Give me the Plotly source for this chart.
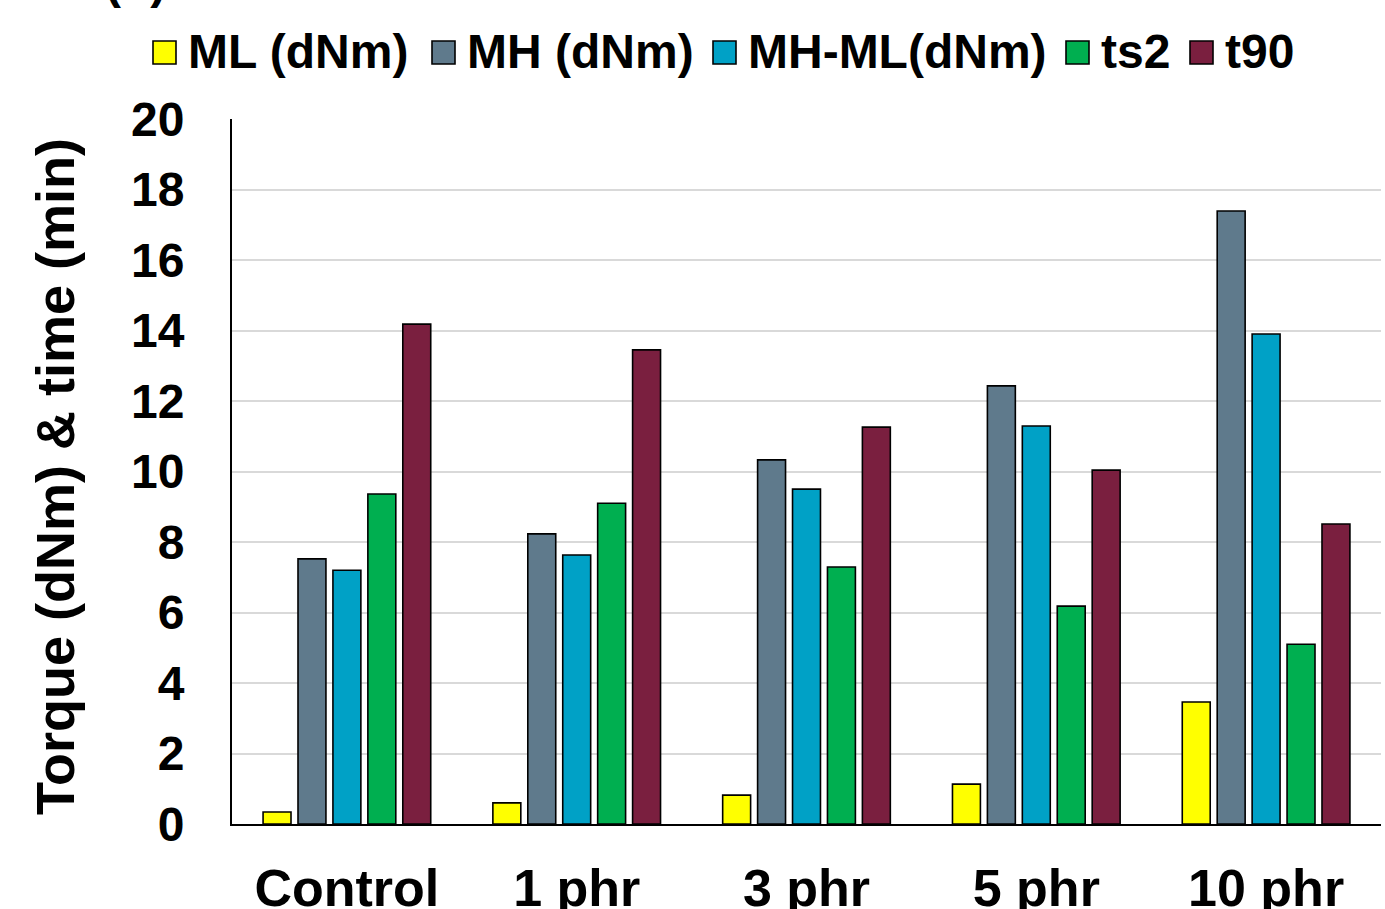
import plotly.graph_objects as go

categories = ["Control", "1 phr", "3 phr", "5 phr", "10 phr"]
series_names = ["ML (dNm)", "MH (dNm)", "MH-ML(dNm)", "ts2", "t90"]
ml = [0.34, 0.60, 0.82, 1.13, 3.46]
mh = [7.52, 8.23, 10.33, 12.43, 17.39]
mh_ml = [7.20, 7.63, 9.50, 11.29, 13.90]
ts2 = [9.36, 9.10, 7.29, 6.18, 5.10]
t90 = [14.18, 13.45, 11.26, 10.04, 8.51]
y_ticks = [0, 2, 4, 6, 8, 10, 12, 14, 16, 18, 20]

values = [ml, mh, mh_ml, ts2, t90]
colors = ["#FFFF00", "#5F7A8C", "#00A1C6", "#00AF50", "#7A1F3F"]

W, H = 1385, 909
L, R, T, B = 232, 4, 119, 85
pw, ph = W - L - R, H - T - B

def px(x):
    return (x - L) / pw

def py(y):
    return (H - B - y) / ph

FONT = "Liberation Sans, Arial, sans-serif"

fig = go.Figure()
for name, vals, col in zip(series_names, values, colors):
    fig.add_trace(go.Bar(
        x=categories, y=vals, name=name, showlegend=False,
        marker=dict(color=col, line=dict(color="#000000", width=1.6)),
    ))

# manual legend (large square keys)
legend_box_left = [153, 432, 713, 1066, 1190]
shapes = []
annotations = []
for name, col, bx in zip(series_names, colors, legend_box_left):
    shapes.append(dict(type="rect", xref="paper", yref="paper",
                       x0=px(bx), x1=px(bx + 23), y0=py(64), y1=py(41),
                       fillcolor=col, line=dict(color="#000000", width=1.6)))
    annotations.append(dict(text=name, xref="paper", yref="paper",
                            x=px(bx + 33), y=py(52), xanchor="left", yanchor="middle",
                            showarrow=False,
                            font=dict(family=FONT, size=48, color="#000000", weight="bold")))

# y-axis title
annotations.append(dict(text="Torque (dNm) & time (min)", xref="paper", yref="paper",
                        x=px(55), y=py(477), xanchor="center", yanchor="middle",
                        textangle=-90, showarrow=False,
                        font=dict(family=FONT, size=54, color="#000000", weight="bold")))
# cut-off panel label at the very top
annotations.append(dict(text="(b)", xref="paper", yref="paper",
                        x=px(168), y=py(10), xanchor="right", yanchor="bottom",
                        showarrow=False,
                        font=dict(family=FONT, size=48, color="#000000", weight="bold")))

fig.update_layout(
    width=W, height=H,
    margin=dict(l=L, r=R, t=T, b=B, autoexpand=False),
    paper_bgcolor="white", plot_bgcolor="white",
    barmode="group", bargap=0.24, bargroupgap=0.2,
    shapes=shapes, annotations=annotations,
    font=dict(family=FONT, color="#000000"),
)
fig.update_xaxes(
    automargin=False,
    showline=True, linecolor="#000000", linewidth=2,
    showgrid=False, ticks="", ticklabelstandoff=18,
    tickfont=dict(family=FONT, size=52, color="#000000", weight="bold"),
)
fig.update_yaxes(
    automargin=False,
    range=[0, 20], tickvals=y_ticks, showline=True, linecolor="#000000", linewidth=2,
    showgrid=True, gridcolor="#D9D9D9", gridwidth=2, zeroline=False,
    ticks="", ticklabelstandoff=36,
    tickfont=dict(family=FONT, size=48, color="#000000", weight="bold"),
)

fig.write_html("out.html")
